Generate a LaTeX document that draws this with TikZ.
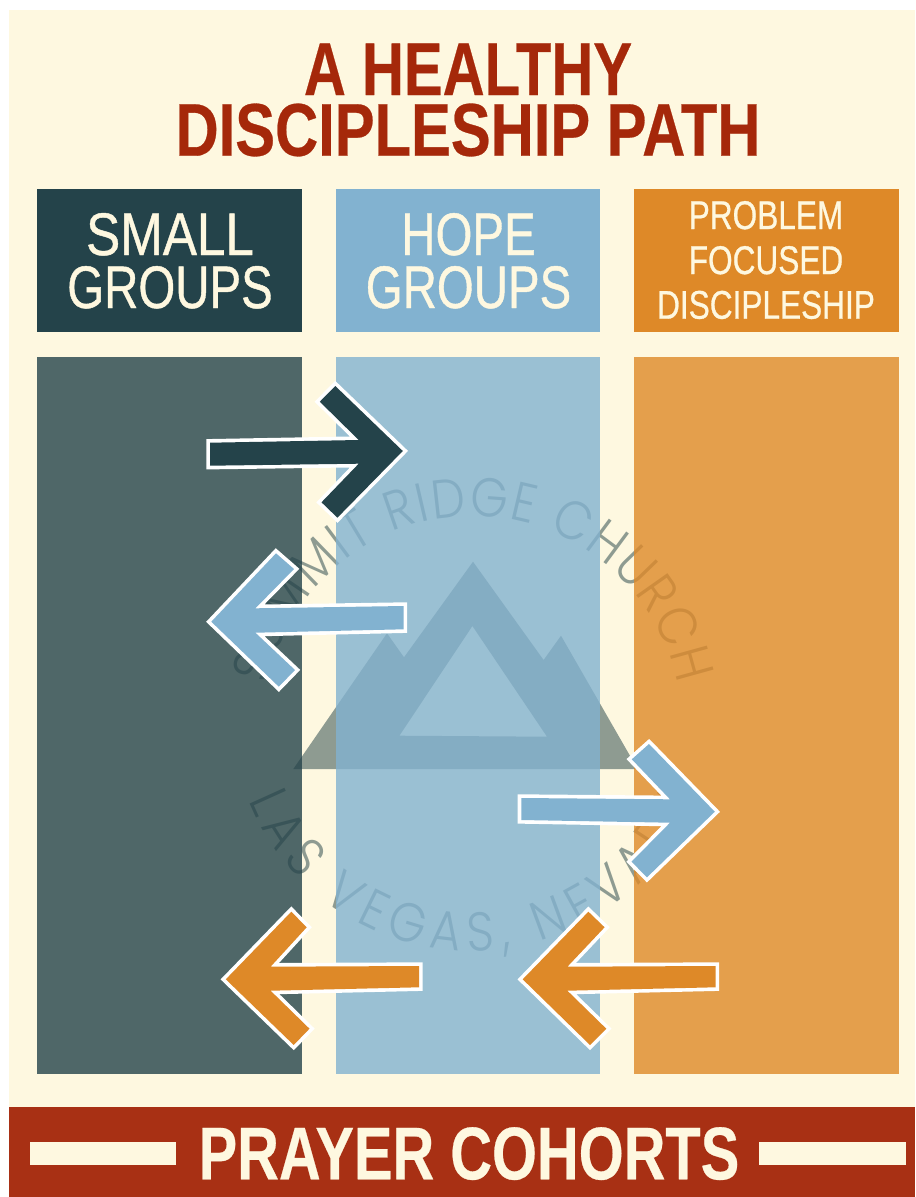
\documentclass[tikz,border=0pt]{standalone}
\usepackage{fontspec}
\usetikzlibrary{decorations.text}
\setmainfont{Liberation Sans}
\newfontfamily\logofont{Poppins Light}[FakeStretch=0.88]
\newfontfamily\headfont{Liberation Sans}[FakeBold=0.8]
\newfontfamily\heavyfont{Liberation Sans Bold}[FakeBold=0.4]
\definecolor{cream}{RGB}{254,248,224}
\definecolor{titlered}{RGB}{165,40,10}
\definecolor{bandred}{RGB}{168,48,20}
\definecolor{dark}{RGB}{36,67,74}
\definecolor{blue}{RGB}{130,178,208}
\definecolor{orange}{RGB}{222,137,40}
\definecolor{logo}{RGB}{142,155,145}
\tikzset{
  x=0.75pt,y=-0.75pt,
  colbody/.style={fill opacity=0.8},
  arrowshape/.style={preaction={draw=white,line width=5.5pt,miter limit=10}},
  lbl/.style={anchor=base,inner sep=0pt,text=cream,xscale=0.79},
  titlelbl/.style={lbl,text=titlered,font=\heavyfont\fontsize{56}{60}\selectfont},
  bandlbl/.style={lbl,font=\heavyfont\fontsize{56}{60}\selectfont},
  biglbl/.style={lbl,font=\headfont\fontsize{45}{50}\selectfont},
  smalllbl/.style={lbl,font=\headfont\fontsize{30}{34}\selectfont},
}
\begin{document}
\begin{tikzpicture}
\useasboundingbox (0,0) rectangle (915,1197);
\fill[white] (0,0) rectangle (915,1197);
\fill[cream] (9,10) rectangle (915,1197);
% logo, beneath the translucent columns
\fill[logo,even odd rule] (473,561.7) -- (543.6,660) -- (561,635.7) -- (637.6,769) -- (293.3,769) -- (387,633.3) -- (404,657.3) -- cycle
  (472.4,626) -- (547,736.7) -- (399.4,735.7) -- cycle;
\path[decorate,decoration={text along path,text align={fit to path},
  text={|\logofont\fontsize{41}{44}\selectfont\color{logo}|SUMMIT RIDGE CHURCH}}]
  ({473+208*sin(-79)},{724-208*cos(-79)}) arc[start angle=169,end angle=11,radius=156pt];
\path[decorate,decoration={text along path,text align={fit to path},
  text={|\logofont\fontsize{41}{44}\selectfont\color{logo}|LAS VEGAS, NEVADA}}]
  ({472+241*sin(-68)},{710+241*cos(-68)}) arc[start angle=202,end angle=340,radius=180.75pt];
% column bodies
\fill[dark,colbody] (37,357) rectangle (302,1074);
\fill[blue,colbody] (336,357) rectangle (600,1074);
\fill[orange,colbody] (634,357) rectangle (899,1074);
% column headers
\fill[dark] (37,189) rectangle (302,332);
\fill[blue] (336,189) rectangle (600,332);
\fill[orange] (634,189) rectangle (899,332);
% band
\fill[bandred] (9,1107) rectangle (915,1197);
\fill[cream] (30,1142) rectangle (176,1165);
\fill[cream] (759,1142) rectangle (906,1165);
% arrows
\fill[arrowshape,fill=dark] (210,442.7) -- (358.7,440) -- (319.8,401.7) -- (335.3,386) -- (402.8,451) -- (337.4,517.7) -- (321.5,502.3) -- (358.7,463.7) -- (210,465.7) -- cycle;
\fill[arrowshape,fill=blue] (403.5,606) -- (255.4,608.3) -- (294,569) -- (276,553.3) -- (211.3,621.7) -- (278.8,686.7) -- (295,670) -- (255.4,632.7) -- (403.5,629.3) -- cycle;
\fill[arrowshape,fill=blue] (521.3,798) -- (670,799.3) -- (631.8,759.3) -- (649,744) -- (714.8,811.7) -- (647,877.3) -- (631.5,861.7) -- (670,822.7) -- (521.3,820) -- cycle;
\fill[arrowshape,fill=orange] (419,966) -- (270.6,966.7) -- (306.7,927.3) -- (291.3,911.7) -- (225.8,979.3) -- (293.7,1045) -- (309.5,1028.7) -- (270.6,990.7) -- (419,987.3) -- cycle;
\fill[arrowshape,fill=orange] (715.5,966) -- (567.4,966.7) -- (604.6,927.3) -- (588.4,911.7) -- (522.7,979.3) -- (590,1045) -- (606.3,1028.7) -- (567.4,990.7) -- (715.5,987.3) -- cycle;
% texts
\node[titlelbl,xscale=0.985] (t1) at (468,95) {A HEALTHY};
\node[titlelbl,xscale=1.012] (t2) at (468,155.7) {DISCIPLESHIP PATH};
\node[biglbl,xscale=1.08] (a1) at (170,255) {SMALL};
\node[biglbl] (a2) at (170,308) {GROUPS};
\node[biglbl] (b1) at (468.5,255) {HOPE};
\node[biglbl] (b2) at (468.5,308) {GROUPS};
\node[smalllbl] (c1) at (766,229) {PROBLEM};
\node[smalllbl] (c2) at (766,274) {FOCUSED};
\node[smalllbl] (c3) at (766,318.7) {DISCIPLESHIP};
\node[bandlbl,xscale=0.98] (p) at (469,1179.3) {PRAYER COHORTS};
\end{tikzpicture}
\end{document}
